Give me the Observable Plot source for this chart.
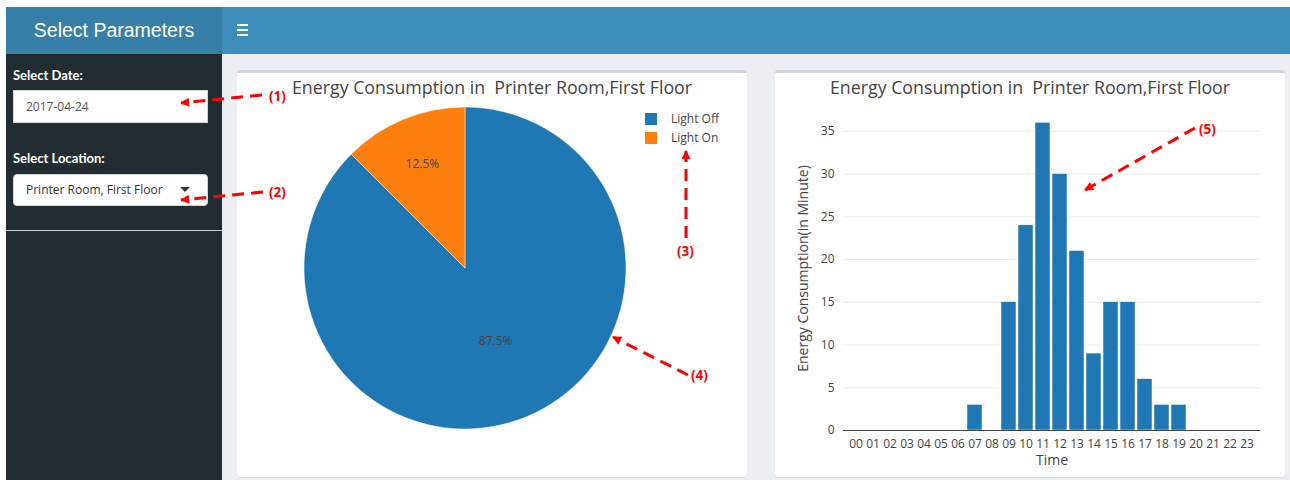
<!DOCTYPE html>
<html><head><meta charset="utf-8">
<script src="https://cdn.jsdelivr.net/npm/d3@7"></script>
<script src="https://cdn.jsdelivr.net/npm/@observablehq/plot@0.6"></script>
<style>
html,body{margin:0;padding:0;}
body{width:1290px;height:480px;position:relative;overflow:hidden;background:#fff;font-family:"Open Sans",sans-serif;}
.a{position:absolute;}
#hdrL{left:6px;top:7px;width:216px;height:47px;background:#367fa9;color:#fff;font:19.5px "Liberation Sans",Arial,sans-serif;text-align:center;line-height:47px;}
#hdrR{left:222px;top:7px;width:1068px;height:47px;background:#3c8dbc;}
.bar3{position:absolute;left:237px;width:11px;height:2px;background:#fff;}
#side{left:6px;top:54px;width:216px;height:426px;background:#222d32;}
#content{left:222px;top:54px;width:1068px;height:426px;background:#ecf0f5;}
.lbl{color:#fff;font:bold 13px Lato,sans-serif;}
.inp{background:#fff;border:1px solid #d2d6de;box-sizing:border-box;font:12px "Open Sans",sans-serif;color:#555;padding-left:12px;}
#sep{left:6px;top:230px;width:216px;height:1px;background:#c8cdd0;}
.box{background:#fff;border-top:3px solid #d2d6de;box-sizing:border-box;border-radius:3px;box-shadow:0 1px 1px rgba(0,0,0,0.1);}
.ttl{font:17.8px "Open Sans",sans-serif;color:#444;text-align:center;white-space:pre;}
.plotwrap svg{max-width:none !important;}
#bars g[aria-label="x-axis label"] text, #bars g[aria-label="y-axis label"] text{font-size:14px;}
.lg-swatches{font:12px "Open Sans",sans-serif !important;color:#444;}
.lg-swatch{line-height:18px;}
.lg-swatch svg{margin-right:14px !important;}
</style></head><body>
<div class="a" id="hdrL">Select Parameters</div>
<div class="a" id="hdrR"></div>
<div class="bar3" style="top:24px"></div><div class="bar3" style="top:29px"></div><div class="bar3" style="top:34px"></div>
<div class="a" id="side"></div>
<div class="a" id="content"></div>
<div class="a lbl" style="left:13px;top:67px;">Select Date:</div>
<div class="a inp" style="left:13px;top:90px;width:195px;height:33px;line-height:31px;">2017-04-24</div>
<div class="a lbl" style="left:13px;top:150px;">Select Location:</div>
<div class="a inp" style="left:13px;top:174px;width:195px;height:32px;line-height:30px;border-radius:4px;color:#333;">Printer Room, First Floor</div>
<div class="a" style="left:180px;top:187px;width:0;height:0;border-left:5px solid transparent;border-right:5px solid transparent;border-top:5px solid #333;"></div>
<div class="a" id="sep"></div>
<div class="a box" style="left:237px;top:70px;width:510px;height:407px;"></div>
<div class="a box" style="left:775px;top:70px;width:510px;height:407px;"></div>
<div class="a plotwrap" id="pie" style="left:237px;top:70px;width:510px;height:407px;"></div>
<div class="a plotwrap" id="bars" style="left:775px;top:70px;width:510px;height:407px;"></div>
<div class="a ttl" style="left:237px;top:75px;width:510px;">Energy Consumption in  Printer Room,First Floor</div>
<div class="a ttl" style="left:775px;top:75px;width:510px;">Energy Consumption in  Printer Room,First Floor</div>
<div class="a" id="legend" style="left:645px;top:110px;"></div>
<svg class="a" width="1290" height="480" style="left:0;top:0;pointer-events:none;">
  <defs><marker id="ah" viewBox="0 0 10 10" refX="9" refY="5" markerWidth="3.3" markerHeight="3" orient="auto"><path d="M0,0L10,5L0,10z" fill="#f00"/></marker></defs>
  <g stroke="#f00" stroke-width="3" stroke-dasharray="12,7" fill="none" marker-end="url(#ah)">
    <line x1="262" y1="95" x2="181" y2="103"/>
    <line x1="263" y1="192" x2="181" y2="200"/>
    <line x1="686" y1="238" x2="686" y2="151"/>
    <line x1="688" y1="375" x2="613" y2="337"/>
    <line x1="1195" y1="128" x2="1085" y2="190"/>
  </g>
  <g fill="#f00" font-family="Open Sans, sans-serif" font-weight="bold" font-size="13.5" dominant-baseline="central">
    <text x="269" y="96">(1)</text>
    <text x="269" y="192">(2)</text>
    <text x="677" y="251">(3)</text>
    <text x="691" y="375">(4)</text>
    <text x="1199" y="129">(5)</text>
  </g>
</svg>
<script>
// ---- data ----
const statusLabels = ["Light Off", "Light On"];
const statusShares = [87.5, 12.5];
const statusColors = ["#1f77b4", "#ff7f0e"];
const hours = ["00","01","02","03","04","05","06","07","08","09","10","11","12","13","14","15","16","17","18","19","20","21","22","23"];
const minutesOn = [0,0,0,0,0,0,0,3,0,15,24,36,30,21,9,15,15,6,3,3,0,0,0,0];
const yTicks = [0,5,10,15,20,25,30,35];

// ---- pie ----
const total = d3.sum(statusShares);
const arcs = d3.pie().sort(null)(statusShares);
const slices = arcs.map((a, i) => ({
  label: statusLabels[i],
  pct: d3.format(".1f")(statusShares[i] / total * 100) + "%",
  mid: (a.startAngle + a.endAngle) / 2,
  k: statusShares[i] / total < 0.5 ? 0.7 : 0.49
}));
const colorFallback = d3.scaleOrdinal(statusLabels, statusColors);
function pieSlices(index, scales) {
  const cx = scales.x(0), cy = scales.y(0), r = scales.x(1) - scales.x(0);
  const col = scales.color || colorFallback;
  const g = d3.create("svg:g").attr("transform", `translate(${cx},${cy})`);
  g.selectAll("path").data(arcs).join("path")
    .attr("d", d3.arc().innerRadius(0).outerRadius(r))
    .attr("fill", (d, i) => col(statusLabels[i]))
    .attr("stroke", "#fff").attr("stroke-width", 0.5);
  return g.node();
}
const pie = Plot.plot({
  width: 510, height: 407,
  marginLeft: 67, marginRight: 121, marginTop: 37, marginBottom: 48,
  x: {domain: [-1, 1], axis: null},
  y: {domain: [-1, 1], axis: null},
  color: {domain: statusLabels, range: statusColors},
  style: {background: "transparent", fontFamily: "Open Sans, sans-serif", fontSize: "12px", overflow: "visible"},
  marks: [
    pieSlices,
    Plot.text(slices, {x: d => d.k * Math.sin(d.mid), y: d => d.k * Math.cos(d.mid), text: "pct", fill: "#444", fontSize: 12})
  ]
});
document.getElementById("pie").append(pie);

document.getElementById("legend").append(Plot.legend({
  color: {type: "ordinal", domain: statusLabels, range: statusColors},
  columns: 1, swatchSize: 12, className: "lg"
}));

// ---- bars ----
const rows = hours.map((h, i) => ({hour: h, minutes: minutesOn[i]}));
const bars = Plot.plot({
  width: 510, height: 407,
  marginLeft: 68, marginRight: 25, marginTop: 36, marginBottom: 47,
  x: {domain: hours, padding: 0.1, tickSize: 0, label: "Time", labelAnchor: "center", labelOffset: 34, labelArrow: "none"},
  y: {domain: [0, 37.9], ticks: yTicks, tickSize: 0, grid: true, label: "Energy Consumption(in Minute)", labelAnchor: "center", labelOffset: 45, labelArrow: "none"},
  style: {background: "transparent", fontFamily: "Open Sans, sans-serif", fontSize: "12px", color: "#444", overflow: "visible"},
  marks: [
    Plot.barY(rows, {x: "hour", y: "minutes", fill: "#1f77b4", stroke: "#fff", strokeWidth: 0.5}),
    Plot.ruleY([0], {stroke: "#444"})
  ]
});
document.getElementById("bars").append(bars);
</script>
</body></html>
